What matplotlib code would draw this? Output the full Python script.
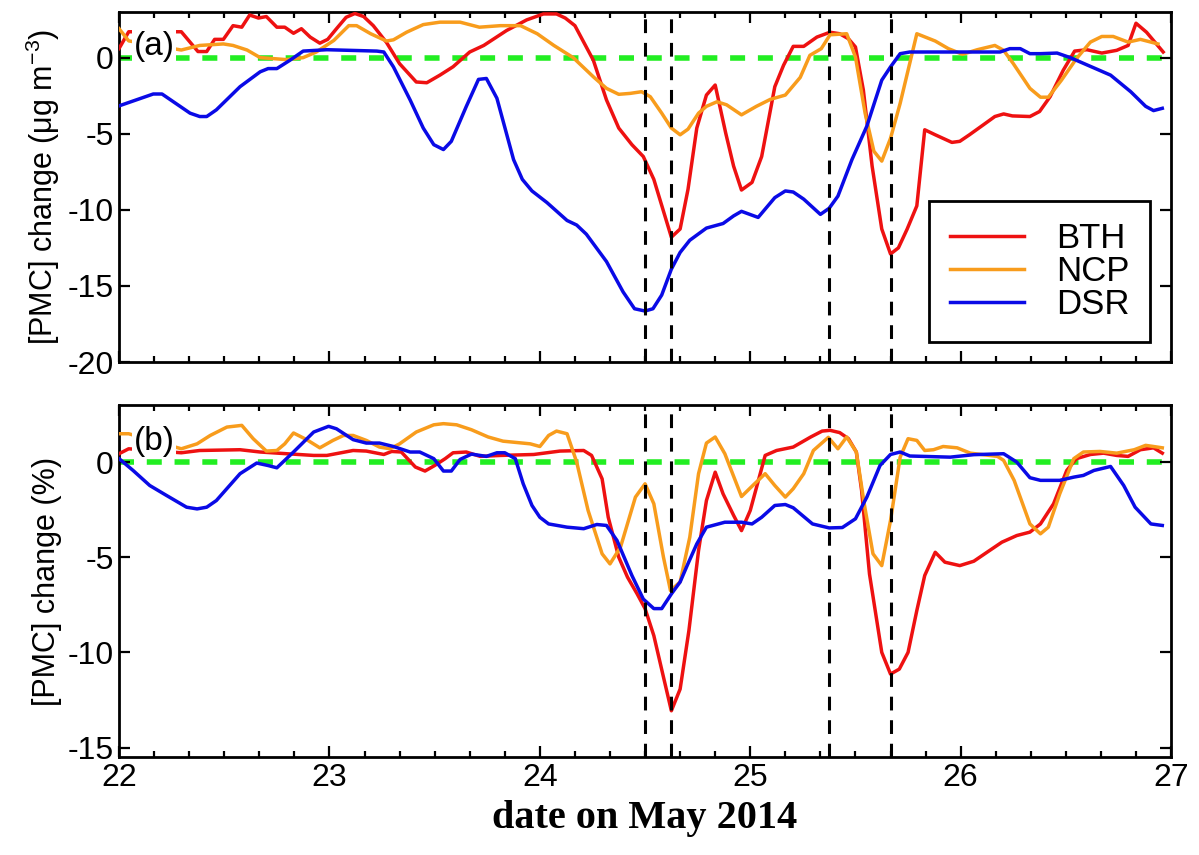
import numpy as np
import matplotlib
matplotlib.use("Agg")
import matplotlib.pyplot as plt
from matplotlib.ticker import MultipleLocator

plt.rcParams['font.family'] = ['Liberation Sans', 'DejaVu Sans']
plt.rcParams['axes.unicode_minus'] = False
plt.rcParams['mathtext.default'] = 'regular'

# ----------------------------------- DATA ----------------------------------- #
# (hours since 22 May 2014 00:00, change)

# panel (a): [PMC] change in ug m-3
bth_a = [(0, 0.6), (1.1, 1.7), (7.1, 1.7), (9.0, 0.4), (10.0, 0.4), (10.9, 1.2), (11.9, 1.2),
         (13.0, 2.1), (14.0, 2.0), (14.9, 2.8), (15.9, 2.6), (16.8, 2.7), (18.0, 2.0), (18.9, 2.0),
         (19.9, 1.6), (20.8, 1.9), (21.8, 1.35), (22.9, 0.95), (23.8, 1.2), (24.8, 1.9), (25.9, 2.65),
         (26.9, 2.9), (27.9, 2.7), (29.0, 2.1), (30.5, 1.0), (32.0, -0.4), (33.9, -1.6), (35.1, -1.65),
         (36.6, -1.15), (38.1, -0.6), (40.0, 0.37), (41.6, 0.8), (44.2, 1.78), (46.5, 2.48), (48.4, 2.87),
         (49.9, 2.87), (50.9, 2.6), (52.0, 2.1), (54.1, -0.17), (55.6, -2.78), (57.0, -4.63), (58.5, -5.72),
         (59.8, -6.5), (61.0, -8.0), (63.0, -11.8), (64.0, -11.26), (64.9, -8.65), (65.9, -4.63),
         (67.0, -2.46), (68.0, -1.8), (69.2, -4.96), (70.1, -7.13), (71.0, -8.7), (72.2, -8.2),
         (73.3, -6.5), (74.8, -1.91), (75.8, -0.5), (76.9, 0.74), (78.1, 0.74), (79.6, 1.35), (81.1, 1.67),
         (82.2, 1.57), (83.2, 1.24), (84.0, 0.7), (84.9, -2.13), (85.9, -7.13), (87.0, -11.26),
         (88.0, -12.9), (88.9, -12.5), (89.9, -11.26), (91.0, -9.74), (91.9, -4.74), (93.1, -5.07),
         (95.0, -5.57), (95.9, -5.5), (97.0, -5.07), (98.6, -4.41), (99.9, -3.87), (100.9, -3.7),
         (101.9, -3.83), (103.9, -3.87), (105.0, -3.54), (106.2, -2.57), (107.7, -0.83), (109.0, 0.43),
         (110.4, 0.52), (112.1, 0.30), (113.8, 0.48), (115.1, 0.8), (116.0, 2.26), (117.2, 1.67),
         (119.1, 0.37)]

ncp_a = [(0, 1.9), (1.1, 1.1), (7.1, 0.5), (9.2, 0.8), (11.9, 0.9), (13.0, 0.8), (14.6, 0.5),
         (16.1, 0.0), (19.1, -0.13), (21.0, 0.0), (22.5, 0.37), (24.5, 1.13), (26.2, 2.1), (27.1, 2.1),
         (28.7, 1.57), (30.5, 1.09), (31.3, 1.17), (32.8, 1.67), (34.7, 2.17), (36.6, 2.33), (38.9, 2.33),
         (41.1, 2.0), (43.5, 2.1), (45.8, 2.1), (47.7, 1.57), (49.6, 0.8), (51.8, 0.0), (54.1, -1.26),
         (55.6, -2.02), (57.0, -2.41), (58.3, -2.35), (59.6, -2.24), (60.6, -2.57), (61.9, -3.65),
         (63.0, -4.63), (64.0, -5.07), (64.9, -4.7), (66.1, -3.65), (67.0, -3.2), (68.2, -2.9),
         (69.3, -3.1), (71.0, -3.76), (72.7, -3.2), (74.3, -2.74), (76.0, -2.46), (77.7, -1.3),
         (78.8, 0.15), (80.1, 0.59), (81.1, 1.5), (83.0, 1.57), (84.0, 0.04), (85.1, -3.65),
         (86.1, -6.15), (87.0, -6.8), (88.0, -5.3), (89.1, -3.0), (91.0, 1.57), (93.1, 1.09),
         (94.6, 0.59), (96.2, 0.22), (97.9, 0.52), (99.9, 0.8), (100.9, 0.48), (102.0, -0.39),
         (103.9, -2.02), (105.1, -2.6), (106.0, -2.6), (107.5, -1.48), (109.2, -0.07), (110.8, 1.02),
         (112.1, 1.39), (113.4, 1.39), (115.1, 1.02), (116.5, 1.2), (118.5, 0.9)]

dsr_a = [(0, -3.17), (3.9, -2.39), (4.9, -2.39), (8.1, -3.65), (9.2, -3.87), (10.0, -3.87),
         (11.1, -3.43), (13.8, -1.91), (16.1, -0.93), (17.0, -0.72), (18.0, -0.72), (19.5, -0.17),
         (21.0, 0.43), (23.7, 0.52), (29.4, 0.43), (30.2, 0.37), (31.3, -0.61), (33.2, -2.78),
         (34.7, -4.63), (35.9, -5.72), (37.0, -6.04), (37.9, -5.5), (39.6, -3.22), (41.0, -1.43),
         (41.9, -1.37), (43.1, -2.67), (45.0, -6.7), (46.0, -8.0), (47.1, -8.76), (48.8, -9.52),
         (51.1, -10.7), (52.2, -11.0), (53.3, -11.6), (55.6, -13.4), (57.5, -15.4), (58.8, -16.5),
         (60.0, -16.65), (60.9, -16.5), (61.9, -15.6), (63.0, -13.9), (64.0, -12.8), (65.1, -12.0),
         (67.0, -11.2), (68.9, -10.9), (70.1, -10.4), (71.0, -10.1), (72.9, -10.5), (74.8, -9.2),
         (76.0, -8.76), (76.9, -8.83), (78.1, -9.3), (80.0, -10.3), (81.0, -9.9), (82.0, -9.1),
         (83.6, -6.7), (85.3, -4.5), (87.0, -1.48), (88.0, -0.61), (89.1, 0.26), (90.2, 0.37),
         (100.5, 0.37), (101.6, 0.59), (102.8, 0.59), (103.9, 0.26), (105.1, 0.26), (107.0, 0.30),
         (108.5, 0.0), (110.5, -0.5), (113.1, -1.15), (115.4, -2.24), (117.1, -3.2), (118.0, -3.48),
         (119.0, -3.33)]

# panel (b): [PMC] change in %
bth_b = [(0, 0.44), (1.1, 0.7), (7.1, 0.49), (9.2, 0.61), (13.8, 0.65), (16.1, 0.53), (19.1, 0.44),
         (22.2, 0.35), (23.7, 0.35), (26.7, 0.61), (28.2, 0.58), (30.2, 0.4), (31.1, 0.56), (32.2, 0.53),
         (33.8, -0.26), (34.9, -0.47), (36.0, -0.18), (37.2, 0.18), (38.1, 0.49), (39.6, 0.53),
         (41.2, 0.3), (43.5, 0.35), (47.3, 0.4), (50.3, 0.58), (53.0, 0.61), (53.9, 0.35), (55.1, -0.88),
         (55.8, -2.9), (57.0, -5.0), (58.0, -6.05), (59.1, -6.93), (60.0, -7.7), (61.0, -9.12),
         (62.1, -11.3), (63.0, -13.07), (64.0, -11.93), (65.0, -8.86), (66.1, -4.65), (67.0, -2.02),
         (68.0, -0.53), (68.9, -1.67), (70.1, -2.8), (71.0, -3.6), (72.0, -2.54), (73.7, 0.35),
         (75.0, 0.61), (76.9, 0.79), (78.9, 1.32), (80.2, 1.63), (81.1, 1.67), (82.2, 1.55),
         (83.2, 1.23), (84.1, 0.53), (84.7, -1.49), (85.6, -5.88), (87.0, -10.0), (88.0, -11.14),
         (89.0, -10.88), (90.0, -10.0), (91.0, -7.8), (91.9, -5.96), (93.1, -4.74), (94.2, -5.26),
         (95.9, -5.44), (97.5, -5.21), (99.0, -4.74), (100.7, -4.21), (102.4, -3.86), (103.9, -3.68),
         (105.1, -3.25), (106.6, -2.19), (108.1, -0.44), (109.2, 0.18), (110.8, 0.4), (112.3, 0.47),
         (113.8, 0.35), (115.1, 0.3), (116.5, 0.65), (118.0, 0.75), (119.0, 0.47)]

ncp_b = [(0, 1.49), (1.1, 1.49), (7.1, 0.7), (8.9, 0.96), (10.4, 1.4), (12.3, 1.84), (14.0, 1.93),
         (15.3, 1.23), (16.8, 0.58), (18.0, 0.61), (18.9, 0.96), (19.9, 1.53), (21.4, 1.18),
         (22.9, 0.75), (24.4, 1.14), (25.6, 1.4), (26.7, 1.4), (28.2, 1.14), (29.7, 0.79), (30.9, 0.7),
         (32.0, 0.96), (33.9, 1.58), (35.9, 1.96), (37.0, 2.02), (38.5, 1.96), (40.2, 1.7), (42.1, 1.32),
         (43.8, 1.1), (46.9, 0.96), (48.0, 0.82), (49.0, 1.4), (49.9, 1.63), (51.1, 1.49), (52.2, 0.0),
         (53.5, -2.54), (55.1, -4.82), (56.0, -5.35), (57.2, -4.47), (58.9, -1.84), (60.0, -1.14),
         (61.0, -2.19), (62.1, -5.0), (62.9, -6.75), (64.0, -6.3), (65.1, -3.95), (66.1, -0.61),
         (67.0, 1.0), (68.0, 1.32), (69.1, 0.44), (71.0, -1.81), (72.4, -1.18), (73.7, -0.61),
         (74.8, -1.23), (76.0, -1.84), (76.9, -1.4), (78.1, -0.61), (79.2, 0.61), (80.9, 1.3),
         (82.0, 0.7), (83.0, 1.32), (84.1, 0.53), (85.0, -2.19), (86.0, -4.82), (87.0, -5.44),
         (88.0, -3.07), (89.1, 0.26), (90.0, 1.23), (91.0, 1.14), (91.9, 0.61), (92.9, 0.65),
         (94.0, 0.82), (95.6, 0.75), (97.1, 0.47), (100.2, 0.3), (100.9, 0.09), (102.1, -0.96),
         (103.9, -3.25), (105.1, -3.77), (106.0, -3.42), (107.3, -1.67), (108.9, 0.18), (110.0, 0.53),
         (111.9, 0.56), (113.8, 0.47), (115.8, 0.65), (117.1, 0.88), (118.0, 0.82), (119.0, 0.75)]

dsr_b = [(0, 0.18), (1.6, -0.44), (3.5, -1.23), (5.4, -1.75), (7.7, -2.37), (8.9, -2.46), (10.0, -2.37),
         (11.1, -2.02), (13.8, -0.61), (15.7, -0.05), (17.0, -0.18), (18.0, -0.3), (19.9, 0.53),
         (22.2, 1.58), (23.9, 1.88), (24.8, 1.75), (26.7, 1.18), (28.2, 1.0), (29.7, 1.0), (31.3, 0.82),
         (33.2, 0.53), (34.3, 0.53), (35.9, 0.18), (37.0, -0.47), (37.9, -0.47), (38.9, 0.14),
         (40.2, 0.42), (41.9, 0.3), (43.1, 0.49), (44.0, 0.49), (45.2, 0.18), (46.1, -1.14),
         (47.1, -2.28), (48.0, -2.9), (49.0, -3.25), (51.1, -3.42), (53.0, -3.5), (54.5, -3.28),
         (55.6, -3.33), (56.8, -4.12), (58.5, -5.96), (59.8, -7.2), (61.0, -7.7), (61.9, -7.7),
         (63.0, -6.93), (64.0, -6.3), (64.8, -5.44), (65.9, -4.3), (67.0, -3.42), (69.1, -3.16),
         (71.0, -3.16), (72.2, -3.25), (73.3, -2.9), (74.8, -2.28), (76.0, -2.23), (76.9, -2.4),
         (79.1, -3.25), (81.0, -3.46), (82.5, -3.44), (84.0, -2.98), (85.3, -1.84), (86.8, -0.18),
         (88.0, 0.4), (89.1, 0.53), (90.2, 0.32), (94.8, 0.26), (97.5, 0.39), (100.9, 0.44),
         (102.4, 0.0), (103.9, -0.82), (105.1, -0.96), (107.3, -0.96), (108.9, -0.79), (110.0, -0.7),
         (111.2, -0.44), (113.1, -0.23), (114.6, -1.23), (115.9, -2.37), (117.7, -3.25), (119.0, -3.33)]

# event times (day of May 2014)
event_days = [24.5, 24.625, 25.375, 25.6667]

series_names = ['BTH', 'NCP', 'DSR']
series_colors = ['#ee1111', '#f89c1c', '#0a0ae6']


def to_xy(pairs):
    arr = np.array(pairs, dtype=float)
    return 22 + arr[:, 0] / 24.0, arr[:, 1]


def style_axes(ax, ylim, yticks):
    ax.set_xlim(22, 27)
    ax.set_ylim(*ylim)
    ax.set_yticks(yticks)
    ax.xaxis.set_major_locator(MultipleLocator(1))
    ax.xaxis.set_minor_locator(MultipleLocator(1 / 6.))
    ax.tick_params(which='both', direction='in', top=True, right=True, labelsize=23, width=1.6)
    ax.tick_params(which='major', length=8, pad=4)
    ax.tick_params(which='minor', length=4)
    ax.tick_params(axis='y', which='minor', left=False, right=False)
    for sp in ax.spines.values():
        sp.set_linewidth(2)
    ax.axhline(0, color='#22ee22', lw=4, ls=(0, (2.7, 2.3)), zorder=1)
    for d in event_days:
        ax.axvline(d, color='k', lw=2.2, ls=(0, (4.5, 3.2)), zorder=4)


# ----------------------------------- PLOT ----------------------------------- #

fig = plt.figure(figsize=(11.99, 8.55), dpi=100)
ax1 = fig.add_axes([0.0993, 0.5766, 0.8774, 0.4094])
ax2 = fig.add_axes([0.0993, 0.1146, 0.8774, 0.4117])

for data, name, col in zip([bth_a, ncp_a, dsr_a], series_names, series_colors):
    x, y = to_xy(data)
    ax1.plot(x, y, color=col, lw=2.5, label=name, zorder=3)
for data, col in zip([bth_b, ncp_b, dsr_b], series_colors):
    x, y = to_xy(data)
    ax2.plot(x, y, color=col, lw=2.5, zorder=3)

style_axes(ax1, (-20, 3), [-20, -15, -10, -5, 0])
style_axes(ax2, (-15.5, 3), [-15, -10, -5, 0])
ax1.set_xticklabels([])
ax2.set_xticks([22, 23, 24, 25, 26, 27])

ax1.set_ylabel('[PMC] change (μg m$^{-3}$)', fontsize=22, labelpad=4)
ax2.set_ylabel('[PMC] change (%)', fontsize=22, labelpad=4)
ax2.set_xlabel('date on May 2014', fontsize=29, fontweight='bold',
               family=['Liberation Serif', 'DejaVu Serif'], labelpad=5)

for ax, lab, yy in [(ax1, '(a)', 0.90), (ax2, '(b)', 0.895)]:
    ax.text(0.014, yy, lab, transform=ax.transAxes, fontsize=24, va='center', ha='left',
            zorder=5, bbox=dict(facecolor='white', edgecolor='none', pad=1.0))

leg = ax1.legend(loc='lower right', bbox_to_anchor=(0.98, 0.057), fontsize=25, frameon=True,
                 fancybox=False, edgecolor='k', framealpha=1, handlelength=2.15,
                 handletextpad=0.9, labelspacing=0.0, borderpad=0.6, borderaxespad=0)
leg.get_frame().set_linewidth(2)
leg.set_zorder(6)

fig.align_ylabels([ax1, ax2])
fig.savefig('out.png', dpi=100)
